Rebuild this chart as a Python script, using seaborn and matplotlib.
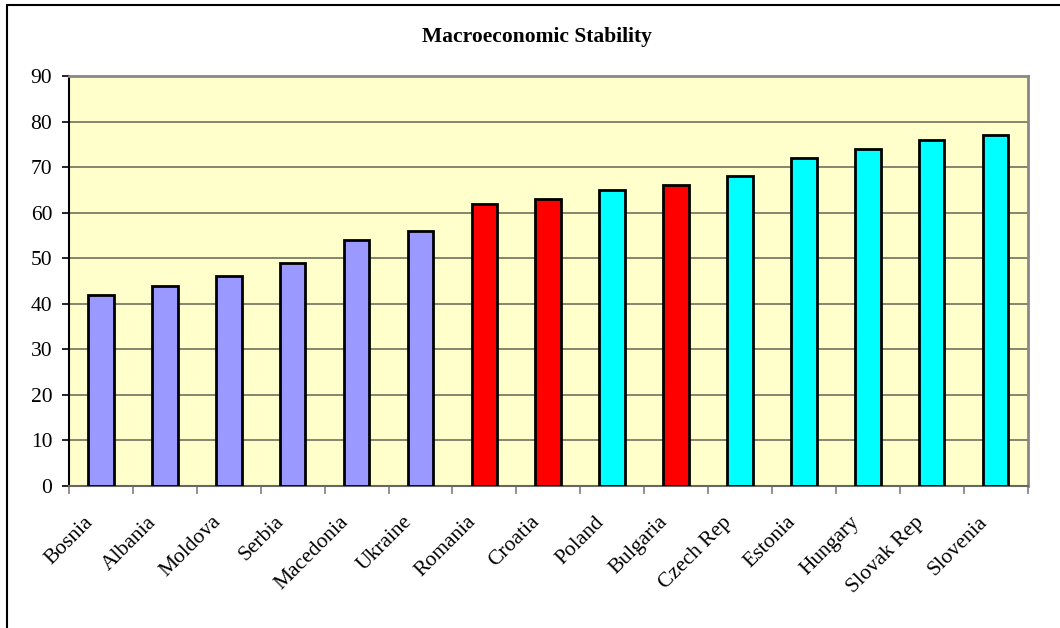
import matplotlib
matplotlib.use("Agg")
import matplotlib.pyplot as plt
import seaborn as sns
import pandas as pd
from matplotlib.lines import Line2D
from matplotlib.transforms import ScaledTranslation

countries = ["Bosnia", "Albania", "Moldova", "Serbia", "Macedonia", "Ukraine", "Romania",
             "Croatia", "Poland", "Bulgaria", "Czech Rep", "Estonia", "Hungary", "Slovak Rep", "Slovenia"]
values = [42, 44, 46, 49, 54, 56, 62, 63, 65, 66, 68, 72, 74, 76, 77]
groups = ["A", "A", "A", "A", "A", "A", "B", "B", "C", "B", "C", "C", "C", "C", "C"]
group_colors = {"A": "#9999FF", "B": "#FF0000", "C": "#00FFFF"}
yticks = list(range(0, 91, 10))

sns.set_theme(style="white")
plt.rcParams['font.family'] = ['Liberation Serif', 'DejaVu Serif']
plt.rcParams['text.color'] = 'black'
plt.rcParams['xtick.labelcolor'] = 'black'
plt.rcParams['ytick.labelcolor'] = 'black'

df = pd.DataFrame({"country": countries, "value": values, "group": groups})

fig = plt.figure(figsize=(10.6, 6.28), dpi=100)
ax = fig.add_axes([69/1060, 1 - 486/628, (1027.5 - 69)/1060, (486 - 76)/628])
ax.set_facecolor("#FFFFCC")

sns.barplot(data=df, x="country", y="value", hue="group", palette=group_colors,
            dodge=False, width=0.4, edgecolor="black", linewidth=2, saturation=1,
            legend=False, ax=ax, zorder=3)

ax.set_ylim(0, 90)
ax.set_xlim(-0.5, len(countries) - 0.5)
ax.set_yticks(yticks)
ax.set_yticklabels([str(t) for t in yticks], fontsize=15.5, color="black")
ax.yaxis.grid(True, color="#707060", linewidth=1.2, zorder=0)
ax.set_axisbelow(True)
ax.set_xlabel("")
ax.set_ylabel("")

ax.set_xticks(range(len(countries)))
ax.set_xticklabels(countries, rotation=45, ha="right", va="center",
                   rotation_mode="anchor", fontsize=15.5, color="black")
ax.tick_params(axis="x", length=0, pad=24)
ax.tick_params(axis="y", left=True, length=5, width=1.2, color="black", pad=7)
offset = ScaledTranslation(-11/100, 0, fig.dpi_scale_trans)
for lbl in ax.get_xticklabels():
    lbl.set_transform(lbl.get_transform() + offset)

# category boundary ticks
ax.set_xticks([i - 0.5 for i in range(len(countries) + 1)], minor=True)
ax.tick_params(axis="x", which="minor", bottom=True, length=6, width=1.2, color="#808080")

for s in ["top", "right"]:
    ax.spines[s].set_color("#888888")
    ax.spines[s].set_linewidth(2)
ax.spines["left"].set_color("black")
ax.spines["left"].set_linewidth(1.5)
ax.spines["bottom"].set_color("#666666")
ax.spines["bottom"].set_linewidth(1.5)

fig.text(537/1060, 1 - 37/628, "Macroeconomic Stability", ha="center", va="center",
         fontsize=15.5, fontweight="bold", color="black")

# figure border (left and top)
fig.add_artist(Line2D([7/1060, 7/1060], [0, 1 - 5/628], color="black", linewidth=1.5, transform=fig.transFigure))
fig.add_artist(Line2D([7/1060, 1], [1 - 5/628, 1 - 5/628], color="black", linewidth=1.5, transform=fig.transFigure))

fig.savefig("out.png", dpi=100)
